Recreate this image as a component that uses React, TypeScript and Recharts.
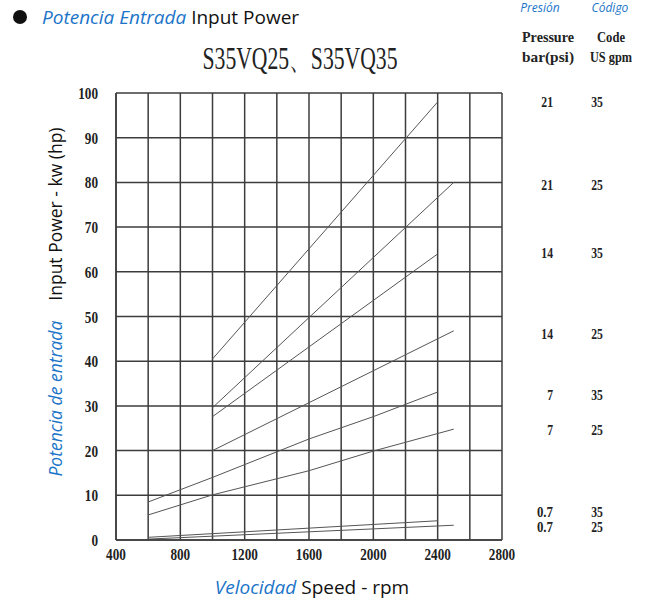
import { LineChart, Line, XAxis, YAxis, CartesianGrid, ReferenceDot } from "recharts";

const BLUE = "#1b74c8";
const GRID = "#3c3c3c";
const NUM_FONT = "'Liberation Serif', serif";
const SANS = "'Open Sans', 'Noto Sans', sans-serif";

// speed (rpm) and input power (kw) for each curve
const rpm21x35 = [1000, 2400];
const kw21x35 = [40.5, 98];
const rpm21x25 = [1000, 2500];
const kw21x25 = [29.6, 80];
const rpm14x35 = [1000, 2400];
const kw14x35 = [27.6, 64];
const rpm14x25 = [1000, 2500];
const kw14x25 = [20, 46.8];
const rpm7x35 = [600, 1000, 1600, 2000, 2400];
const kw7x35 = [8.5, 14, 22.6, 27.6, 33.1];
const rpm7x25 = [600, 1000, 1600, 2000, 2500];
const kw7x25 = [5.6, 10.1, 15.5, 19.9, 24.8];
const rpm07x35 = [600, 2400];
const kw07x35 = [0.6, 4.3];
const rpm07x25 = [600, 2500];
const kw07x25 = [0.2, 3.3];

// right-hand key: pressure, code, and power level the row sits at
const keyPressure = ["21", "21", "14", "14", "7", "7", "0.7", "0.7"];
const keyCode = ["35", "25", "35", "25", "35", "25", "35", "25"];
const keyKw = [98, 79.4, 64.2, 46.1, 32.4, 24.6, 6.3, 2.8];

const rpmTicks = [400, 600, 800, 1000, 1200, 1400, 1600, 1800, 2000, 2200, 2400, 2600, 2800];
const kwTicks = [0, 10, 20, 30, 40, 50, 60, 70, 80, 90, 100];

const curves = [
  [rpm21x35, kw21x35],
  [rpm21x25, kw21x25],
  [rpm14x35, kw14x35],
  [rpm14x25, kw14x25],
  [rpm7x35, kw7x35],
  [rpm7x25, kw7x25],
  [rpm07x35, kw07x35],
  [rpm07x25, kw07x25],
].map(([rpm, kw]) => rpm.map((r, i) => ({ rpm: r, kw: kw[i] })));

function Num({ x, y, s, anchor, size = 17 }: { x: number; y: number; s: string; anchor: string; size?: number }) {
  const w = (s.replace(".", "").length * 6.6 + (s.includes(".") ? 5 : 0)) * (size / 17);
  return (
    <text
      x={x}
      y={y}
      textAnchor={anchor}
      fontFamily={NUM_FONT}
      fontWeight={700}
      fontSize={size}
      fill="#222"
      textLength={w}
      lengthAdjust="spacingAndGlyphs"
    >
      {s}
    </text>
  );
}

const XTick = (p: any) => {
  const v = p.payload.value;
  if (v % 400 !== 0) return null;
  return <Num x={p.x} y={p.y + 12} s={String(v)} anchor="middle" />;
};

const YTick = (p: any) => <Num x={p.x - 10} y={p.y + 6} s={String(p.payload.value)} anchor="end" />;

const KeyRow = (i: number) => (p: any) => (
  <g>
    <Num x={p.cx + 51} y={p.cy + 5} s={keyPressure[i]} anchor="end" size={15} />
    <Num x={p.cx + 95} y={p.cy + 5} s={keyCode[i]} anchor="middle" size={15} />
  </g>
);

export default function App() {
  return (
    <div style={{ position: "absolute", left: 0, top: 0, width: 645, height: 601, background: "#fff" }}>
      <LineChart width={645} height={601} margin={{ top: 93, right: 143, bottom: 31, left: 56 }}>
        <CartesianGrid stroke={GRID} strokeWidth={1.5} />
        <XAxis
          type="number"
          dataKey="rpm"
          domain={[400, 2800]}
          ticks={rpmTicks}
          interval={0}
          height={30}
          tickLine={false}
          axisLine={{ stroke: GRID, strokeWidth: 1.5 }}
          tick={XTick}
          allowDuplicatedCategory={false}
        />
        <YAxis
          type="number"
          domain={[0, 100]}
          ticks={kwTicks}
          interval={0}
          width={60}
          tickLine={false}
          axisLine={{ stroke: GRID, strokeWidth: 1.5 }}
          tick={YTick}
        />
        {curves.map((d, i) => (
          <Line
            key={i}
            data={d}
            dataKey="kw"
            type="linear"
            stroke="#555"
            strokeWidth={1}
            dot={false}
            isAnimationActive={false}
          />
        ))}
        {keyKw.map((k, i) => (
          <ReferenceDot key={i} x={2800} y={k} r={0} ifOverflow="visible" shape={KeyRow(i)} />
        ))}
      </LineChart>
      <svg
        width={645}
        height={601}
        style={{ position: "absolute", left: 0, top: 0, pointerEvents: "none" }}
      >
        <circle cx={20} cy={17} r={7} fill="#111" />
        <text x={42} y={24} fontFamily={SANS} fontSize={19}>
          <tspan fill={BLUE} fontStyle="italic">Potencia Entrada</tspan>
          <tspan fill="#111"> Input Power</tspan>
        </text>
        <text
          x={300}
          y={69}
          textAnchor="middle"
          fontFamily={NUM_FONT}
          fontSize={31}
          fill="#222"
          textLength={195}
          lengthAdjust="spacingAndGlyphs"
        >
          S35VQ25、S35VQ35
        </text>
        <text x={540} y={12} textAnchor="middle" fontFamily={SANS} fontSize={12} fontStyle="italic" fill={BLUE}>
          Presión
        </text>
        <text x={610} y={12} textAnchor="middle" fontFamily={SANS} fontSize={12} fontStyle="italic" fill={BLUE}>
          Código
        </text>
        <text x={548} y={42} textAnchor="middle" fontFamily={NUM_FONT} fontWeight={700} fontSize={14} fill="#222" textLength={52} lengthAdjust="spacingAndGlyphs">
          Pressure
        </text>
        <text x={548} y={62} textAnchor="middle" fontFamily={NUM_FONT} fontWeight={700} fontSize={14} fill="#222" textLength={52} lengthAdjust="spacingAndGlyphs">
          bar(psi)
        </text>
        <text x={611} y={42} textAnchor="middle" fontFamily={NUM_FONT} fontWeight={700} fontSize={14} fill="#222" textLength={28} lengthAdjust="spacingAndGlyphs">
          Code
        </text>
        <text x={611} y={62} textAnchor="middle" fontFamily={NUM_FONT} fontWeight={700} fontSize={14} fill="#222" textLength={42} lengthAdjust="spacingAndGlyphs">
          US gpm
        </text>
        <text
          transform="translate(62, 302) rotate(-90)"
          textAnchor="middle"
          fontFamily={SANS}
          fontSize={17.5}
        >
          <tspan fill={BLUE} fontStyle="italic">Potencia de entrada</tspan>
          <tspan fill="#111" dx={20}>Input Power - kw (hp)</tspan>
        </text>
        <text x={312} y={594} textAnchor="middle" fontFamily={SANS} fontSize={19}>
          <tspan fill={BLUE} fontStyle="italic">Velocidad</tspan>
          <tspan fill="#111"> Speed - rpm</tspan>
        </text>
      </svg>
    </div>
  );
}
